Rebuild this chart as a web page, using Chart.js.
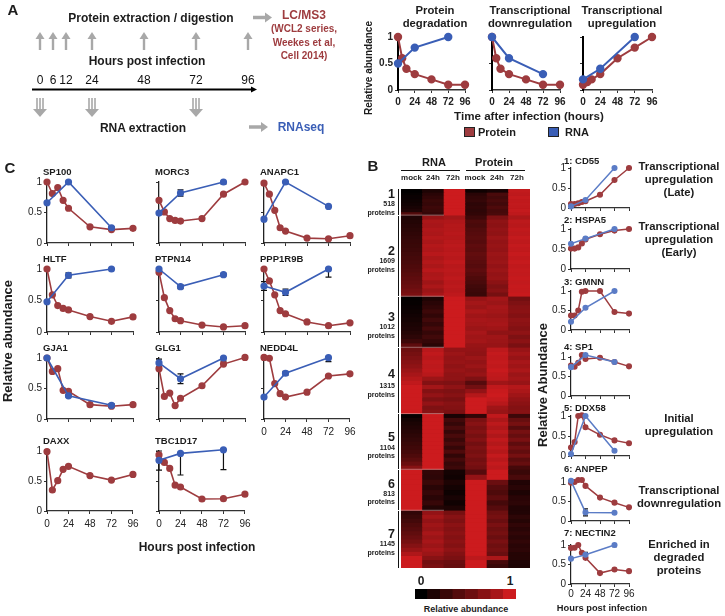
<!DOCTYPE html>
<html>
<head>
<meta charset="utf-8">
<title>Protein and RNA time courses</title>
<script src="https://cdn.jsdelivr.net/npm/chart.js@4"></script>
<style>
    html, body { margin: 0; padding: 0; background: #fff; }
    #page { position: relative; width: 725px; height: 616px; overflow: hidden; font-family: "Liberation Sans", Arial, sans-serif; color: #1c1c1c; }
    #page canvas { position: absolute; }
    .t { position: absolute; white-space: nowrap; line-height: 1; }
    .box { position: absolute; }
</style>
</head>
<body>
<div id="page"></div>
<script>
// time points
const timelineHours = [0, 6, 12, 24, 48, 72, 96];
const proteinHours = [0, 6, 12, 18, 24, 48, 72, 96];
const rnaHours = [0, 24, 72];
const axisHours = [0, 24, 48, 72, 96];

// panel A
const degradationProtein = [1, 0.6, 0.4, 0.3, 0.2, 0.1, 0.1];
const degradationRna = [0.5, 0.8, 1];
const downProtein = [1, 0.6, 0.4, 0.3, 0.2, 0.1, 0.1];
const downRna = [1, 0.6, 0.3];
const upProtein = [0.1, 0.15, 0.2, 0.3, 0.6, 0.8, 1];
const upRna = [0.2, 0.4, 1];

// panel C
const sp100Protein = [1, 0.81, 0.91, 0.7, 0.57, 0.265, 0.22, 0.24];
const sp100Rna = [0.66, 1, 0.25];
const sp100Low = [0.66, 0.96, 0.22];
const sp100High = [0.66, 1, 0.27];
const morc3Protein = [0.7, 0.51, 0.4, 0.37, 0.36, 0.4, 0.8, 1];
const morc3Rna = [0.49, 0.82, 1];
const morc3Low = [0.49, 0.77, 0.97];
const morc3High = [0.49, 0.87, 1];
const anapc1Protein = [0.98, 0.8, 0.535, 0.25, 0.195, 0.08, 0.07, 0.12];
const anapc1Rna = [0.39, 1, 0.6];
const hltfProtein = [1, 0.59, 0.42, 0.375, 0.35, 0.245, 0.17, 0.24];
const hltfRna = [0.48, 0.9, 1];
const hltfLow = [0.48, 0.86, 1];
const hltfHigh = [0.48, 0.94, 1];
const ptpn14Protein = [0.95, 0.545, 0.34, 0.21, 0.18, 0.11, 0.08, 0.1];
const ptpn14Rna = [1, 0.72, 0.91];
const ptpn14Low = [1, 0.69, 0.89];
const ptpn14High = [1, 0.75, 0.93];
const ppp1r9bProtein = [1, 0.81, 0.59, 0.34, 0.29, 0.16, 0.1, 0.145];
const ppp1r9bRna = [0.73, 0.63, 1];
const ppp1r9bLow = [0.66, 0.58, 0.87];
const ppp1r9bHigh = [0.8, 0.68, 1];
const gja1Protein = [1, 0.78, 0.825, 0.47, 0.455, 0.235, 0.21, 0.235];
const gja1Rna = [1, 0.38, 0.225];
const gja1Low = [1, 0.36, 0.2];
const gja1High = [1, 0.4, 0.25];
const glg1Protein = [0.825, 0.37, 0.425, 0.22, 0.34, 0.545, 0.9, 1.01];
const glg1Rna = [0.92, 0.66, 1];
const glg1Low = [0.86, 0.58, 0.95];
const glg1High = [0.98, 0.74, 1];
const nedd4lProtein = [1.01, 0.995, 0.58, 0.415, 0.36, 0.44, 0.705, 0.74];
const nedd4lRna = [0.36, 0.75, 1.005];
const nedd4lLow = [0.36, 0.72, 0.94];
const nedd4lHigh = [0.36, 0.78, 1.005];
const daxxProtein = [0.99, 0.35, 0.505, 0.695, 0.745, 0.59, 0.515, 0.61];
const tbc1d17Protein = [0.935, 0.81, 0.71, 0.43, 0.4, 0.2, 0.205, 0.28];
const tbc1d17Rna = [0.845, 0.96, 1.02];
const tbc1d17Low = [0.68, 0.6, 0.69];
const tbc1d17High = [1, 0.96, 1.02];

// panel B line plots
const cd55Protein = [0.1, 0.1, 0.12, 0.15, 0.17, 0.33, 0.7, 1];
const cd55Rna = [0.04, 0.2, 1];
const hspa5Protein = [0.51, 0.51, 0.54, 0.64, 0.74, 0.87, 0.96, 1];
const hspa5Rna = [0.63, 0.76, 1];
const gmnnProtein = [0.37, 0.37, 0.5, 0.98, 1, 1, 0.46, 0.42];
const gmnnRna = [0.21, 0.57, 1];
const sp1Protein = [0.78, 0.75, 0.85, 1.05, 0.95, 0.98, 0.87, 0.76];
const sp1Rna = [0.74, 1.05, 0.87];
const ddx58Protein = [0.21, 0.35, 1, 1.02, 0.72, 0.53, 0.39, 0.32];
const ddx58Rna = [0.05, 1, 0.13];
const anpepProtein = [0.98, 1, 1.05, 1.05, 0.9, 0.6, 0.47, 0.35];
const anpepRna = [1.03, 0.22, 0.21];
const anpepLow = [1.03, 0.13, 0.21];
const anpepHigh = [1.03, 0.31, 0.21];
const nectin2Protein = [0.92, 0.93, 1, 0.8, 0.67, 0.28, 0.37, 0.33];
const nectin2Rna = [0.65, 0.75, 1];
const nectin2Low = [0.65, 0.69, 0.96];
const nectin2High = [0.65, 0.81, 1];

// panel B heatmap: rna mock, 24h, 72h, protein mock, 24h, 72h
const heatColumns = ["rna mock", "rna 24h", "rna 72h", "protein mock", "protein 24h", "protein 72h"];
const clusterCounts = [518, 1609, 1012, 1315, 1104, 813, 1145];
const cluster1 = [
    [0.01, 0.14, 1, 0.08, 0.12, 0.95], [0.03, 0.2, 1, 0.2, 0.36, 0.93],
    [0.05, 0.24, 1, 0.24, 0.32, 0.96], [0.07, 0.28, 1, 0.26, 0.36, 0.94],
    [0.09, 0.26, 1, 0.22, 0.32, 0.95], [0.12, 0.3, 1, 0.24, 0.38, 0.94],
    [0.15, 0.28, 1, 0.22, 0.34, 0.96], [0.4, 0.26, 1, 0.24, 0.36, 0.93]
];
const cluster2 = [
    [0.15, 0.74, 0.8, 0.3, 0.62, 0.84], [0.17, 0.84, 0.86, 0.38, 0.7, 0.92],
    [0.19, 0.82, 0.88, 0.36, 0.68, 0.9], [0.21, 0.86, 0.88, 0.4, 0.72, 0.94],
    [0.23, 0.84, 0.9, 0.42, 0.7, 0.92], [0.25, 0.88, 0.88, 0.44, 0.76, 0.96],
    [0.27, 0.84, 0.9, 0.42, 0.72, 0.93], [0.28, 0.88, 0.92, 0.46, 0.74, 0.96],
    [0.3, 0.86, 0.9, 0.44, 0.72, 0.94], [0.32, 0.9, 0.92, 0.48, 0.76, 0.97],
    [0.34, 0.84, 0.9, 0.46, 0.74, 0.94], [0.36, 0.88, 0.94, 0.44, 0.76, 0.97],
    [0.38, 0.84, 0.9, 0.42, 0.72, 0.94], [0.4, 0.9, 0.92, 0.46, 0.76, 0.96],
    [0.43, 0.84, 0.9, 0.42, 0.72, 0.95], [0.46, 0.86, 0.93, 0.38, 0.74, 0.97],
    [0.49, 0.78, 0.9, 0.36, 0.68, 0.95], [0.52, 0.84, 0.92, 0.32, 0.62, 0.97],
    [0.56, 0.76, 0.9, 0.3, 0.66, 0.96], [0.6, 0.82, 0.93, 0.28, 0.58, 0.98]
];
const cluster3 = [
    [0.01, 0.14, 1, 0.74, 0.8, 0.56], [0.03, 0.2, 1, 0.8, 0.76, 0.62],
    [0.05, 0.24, 1, 0.76, 0.82, 0.66], [0.07, 0.3, 1, 0.84, 0.8, 0.68],
    [0.09, 0.24, 1, 0.78, 0.76, 0.64], [0.11, 0.32, 1, 0.82, 0.8, 0.7],
    [0.13, 0.26, 1, 0.8, 0.82, 0.68], [0.15, 0.34, 1, 0.76, 0.78, 0.64],
    [0.18, 0.26, 1, 0.82, 0.7, 0.7], [0.22, 0.32, 1, 0.78, 0.78, 0.62],
    [0.3, 0.26, 1, 0.8, 0.76, 0.68], [0.46, 0.2, 1, 0.74, 0.74, 0.6]
];
const cluster4 = [
    [0.54, 0.9, 0.72, 0.72, 0.92, 0.74], [0.58, 0.94, 0.76, 0.7, 0.96, 0.8],
    [0.62, 0.9, 0.72, 0.76, 0.94, 0.74], [0.66, 0.94, 0.74, 0.72, 0.96, 0.82],
    [0.7, 0.92, 0.7, 0.76, 0.94, 0.78], [0.76, 0.94, 0.74, 0.7, 0.98, 0.84],
    [0.82, 0.9, 0.7, 0.74, 0.94, 0.76], [0.88, 0.76, 0.7, 0.62, 0.92, 0.8],
    [0.94, 0.64, 0.62, 0.42, 0.78, 0.74], [1, 0.8, 0.7, 0.56, 0.94, 0.88],
    [1, 0.64, 0.62, 0.72, 0.98, 0.84], [1, 0.72, 0.66, 0.88, 1, 0.78],
    [1, 0.62, 0.6, 1, 0.96, 0.72], [1, 0.72, 0.66, 1, 0.9, 0.68],
    [1, 0.62, 0.64, 1, 0.78, 0.64], [1, 0.66, 0.6, 1, 0.74, 0.66]
];
const cluster5 = [
    [0.03, 1, 0.12, 0.24, 0.94, 0.3], [0.1, 1, 0.32, 0.6, 0.84, 0.5],
    [0.13, 1, 0.26, 0.66, 0.92, 0.58], [0.16, 1, 0.36, 0.6, 0.86, 0.42],
    [0.19, 1, 0.26, 0.64, 0.92, 0.58], [0.22, 1, 0.36, 0.58, 0.86, 0.5],
    [0.25, 1, 0.28, 0.64, 0.94, 0.6], [0.28, 1, 0.36, 0.56, 0.88, 0.46],
    [0.31, 1, 0.26, 0.62, 0.94, 0.56], [0.34, 1, 0.38, 0.58, 0.88, 0.48],
    [0.38, 1, 0.24, 0.62, 0.96, 0.58], [0.44, 1, 0.34, 0.56, 0.9, 0.44],
    [0.52, 1, 0.26, 0.6, 0.96, 0.5], [0.66, 1, 0.3, 0.56, 0.92, 0.34]
];
const cluster6 = [
    [1, 0.24, 0.1, 0.42, 1, 0.28], [1, 0.22, 0.08, 0.72, 1, 0.36],
    [1, 0.28, 0.14, 1, 0.52, 0.16], [1, 0.2, 0.1, 1, 0.42, 0.2],
    [1, 0.26, 0.07, 1, 0.38, 0.14], [1, 0.2, 0.12, 1, 0.46, 0.2],
    [1, 0.27, 0.08, 1, 0.34, 0.22], [1, 0.17, 0.14, 1, 0.42, 0.16]
];
const cluster7 = [
    [0.24, 0.72, 0.58, 1, 0.54, 0.16], [0.28, 0.8, 0.66, 1, 0.58, 0.22],
    [0.33, 0.72, 0.62, 1, 0.52, 0.18], [0.38, 0.78, 0.68, 1, 0.6, 0.24],
    [0.42, 0.74, 0.64, 1, 0.54, 0.2], [0.47, 0.82, 0.68, 1, 0.58, 0.24],
    [0.52, 0.76, 0.64, 1, 0.52, 0.2], [0.58, 0.82, 0.68, 1, 0.6, 0.24],
    [0.65, 0.76, 0.64, 1, 0.54, 0.2], [0.74, 0.82, 0.7, 1, 0.58, 0.22],
    [0.86, 0.76, 0.64, 1, 0.52, 0.18], [1, 0.66, 0.6, 0.92, 0.84, 0.18],
    [1, 0.56, 0.52, 1, 0.34, 0.15], [1, 0.6, 0.5, 1, 0.28, 0.14]
];
const clusterRows = [cluster1, cluster2, cluster3, cluster4, cluster5, cluster6, cluster7];
const colorbarValues = [0, 0.14, 0.28, 0.41, 0.53, 0.66, 0.82, 1];

const PROTEIN = "#9e3c3f";
const RNA = "#3a5eb6";
const RNA_LIGHT = "#5b7cc6";
const ARROW = "#a8a8a8";
const page = document.getElementById("page");

Chart.defaults.font.family = '"Liberation Sans", Arial, sans-serif';
Chart.defaults.color = "#222";
Chart.defaults.animation = false;

// text helper, x and y are the anchor point (middle of the line height)
function text(str, x, y, size, opts) {
    opts = opts || {};
    const el = document.createElement("div");
    el.className = "t";
    el.textContent = str;
    el.style.left = x + "px";
    el.style.top = y + "px";
    el.style.fontSize = size + "px";
    el.style.fontWeight = opts.weight || "bold";
    if (opts.color) el.style.color = opts.color;
    const shift = opts.align === "left" ? "0" : opts.align === "right" ? "-100%" : "-50%";
    el.style.transform = "translate(" + shift + ",-50%)" + (opts.rotate ? " rotate(-90deg)" : "");
    page.appendChild(el);
}

function lines(list, x, y, step, size, opts) {
    list.forEach(function (s, i) { text(s, x, y + i * step, size, opts); });
}

function addCanvas(left, top, width, height) {
    const c = document.createElement("canvas");
    c.width = width;
    c.height = height;
    c.style.left = left + "px";
    c.style.top = top + "px";
    c.style.width = width + "px";
    c.style.height = height + "px";
    page.appendChild(c);
    return c.getContext("2d");
}

function toPoints(hours, values) {
    return hours.map(function (h, i) { return { x: h, y: values[i] }; });
}

// draws the black whiskers of the RNA series behind the points
const errorBars = {
    id: "errorBars",
    beforeDatasetsDraw(chart, args, o) {
        if (!o.low) return;
        const ctx = chart.ctx, sx = chart.scales.x, sy = chart.scales.y;
        ctx.save();
        ctx.strokeStyle = "#111";
        ctx.lineWidth = o.width;
        rnaHours.forEach(function (h, i) {
            const px = sx.getPixelForValue(h);
            const a = sy.getPixelForValue(o.low[i]);
            const b = sy.getPixelForValue(o.high[i]);
            if (Math.abs(a - b) < 1) return;
            ctx.beginPath();
            ctx.moveTo(px, a); ctx.lineTo(px, b);
            ctx.moveTo(px - o.cap, a); ctx.lineTo(px + o.cap, a);
            ctx.moveTo(px - o.cap, b); ctx.lineTo(px + o.cap, b);
            ctx.stroke();
        });
        ctx.restore();
    }
};

const STYLES = {
    a: { radius: 3.2, line: 2, yBorder: 2, xBorder: 1.6, tick: 3, labelPad: 3.5, font: { size: 10, weight: "bold" }, yColor: "#000", cap: 2, rna: RNA },
    c: { radius: 2.8, line: 1.6, yBorder: 1.3, xBorder: 1.2, tick: 3, labelPad: 4.5, font: { size: 10 }, yColor: "#222", cap: 3, rna: RNA },
    b: { radius: 2.3, line: 1.5, yBorder: 1.2, xBorder: 1.2, tick: 3, labelPad: 1.5, font: { size: 10 }, yColor: "#222", cap: 2.5, rna: RNA_LIGHT }
};

function linePlot(p) {
    const s = STYLES[p.style];
    const padY = 28, padTop = 9, padRight = 10, padX = 22;
    const width = p.x96 - p.x0;
    const height = p.y0 - p.y1;
    const ctx = addCanvas(p.x0 - padY, p.y1 - padTop, width + padY + padRight, height + padTop + padX);
    const datasets = [];
    if (p.rna) datasets.push({
        data: toPoints(rnaHours, p.rna), showLine: true, borderColor: s.rna, backgroundColor: s.rna,
        borderWidth: s.line, pointRadius: s.radius, clip: false
    });
    datasets.push({
        data: toPoints(p.proteinHours || proteinHours, p.protein), showLine: true, borderColor: PROTEIN, backgroundColor: PROTEIN,
        borderWidth: s.line, pointRadius: s.radius, clip: false
    });
    return new Chart(ctx, {
        type: "scatter",
        data: { datasets: datasets },
        plugins: [errorBars],
        options: {
            responsive: false,
            layout: { padding: { left: 0, right: padRight, top: padTop, bottom: 0 } },
            plugins: {
                legend: { display: false },
                tooltip: { enabled: false },
                errorBars: { low: p.low, high: p.high, cap: s.cap, width: 1.2 }
            },
            scales: {
                x: {
                    type: "linear", min: 0, max: 96,
                    afterBuildTicks: function (a) { a.ticks = axisHours.map(function (v) { return { value: v }; }); },
                    afterFit: function (a) { a.height = padX; },
                    border: { color: "#333", width: s.xBorder },
                    grid: { drawOnChartArea: false, tickLength: s.tick, color: "#333" },
                    ticks: {
                        font: s.font, padding: s.labelPad, maxRotation: 0, autoSkip: false,
                        callback: function (v) { return p.xLabels ? String(v) : ""; }
                    }
                },
                y: {
                    min: 0, max: 1,
                    afterBuildTicks: function (a) { a.ticks = [0, 0.5, 1].map(function (v) { return { value: v }; }); },
                    afterFit: function (a) { a.width = padY; },
                    border: { color: s.yColor, width: s.yBorder },
                    grid: { drawOnChartArea: false, tickLength: s.tick, color: "#333" },
                    ticks: {
                        font: s.font, padding: 2, autoSkip: false,
                        callback: function (v) { return p.yLabels ? String(v) : ""; }
                    }
                }
            }
        }
    });
}

// ---- Panel A: timeline ----
function upArrow(c, x, top, bottom) {
    c.strokeStyle = ARROW; c.fillStyle = ARROW; c.lineWidth = 2.4;
    c.beginPath(); c.moveTo(x, bottom); c.lineTo(x, top + 5); c.stroke();
    c.beginPath(); c.moveTo(x - 4.5, top + 7); c.lineTo(x, top); c.lineTo(x + 4.5, top + 7); c.closePath(); c.fill();
}

function sideArrow(c, left, right, y) {
    c.strokeStyle = ARROW; c.fillStyle = ARROW; c.lineWidth = 3.5;
    c.beginPath(); c.moveTo(left, y); c.lineTo(right - 6, y); c.stroke();
    c.beginPath(); c.moveTo(right - 7, y - 5); c.lineTo(right, y); c.lineTo(right - 7, y + 5); c.closePath(); c.fill();
}

const timelineDraw = {
    id: "timelineDraw",
    afterDraw(chart) {
        const c = chart.ctx, sx = chart.scales.x;
        c.save();
        timelineHours.forEach(function (h) { upArrow(c, sx.getPixelForValue(h), 32, 50); });
        rnaHours.forEach(function (h) {
            const x = sx.getPixelForValue(h);
            c.strokeStyle = ARROW; c.fillStyle = ARROW; c.lineWidth = 1.6;
            [-3, 0, 3].forEach(function (d) {
                c.beginPath(); c.moveTo(x + d, 98); c.lineTo(x + d, 110); c.stroke();
            });
            c.beginPath(); c.moveTo(x - 7, 109); c.lineTo(x + 7, 109); c.lineTo(x, 117); c.closePath(); c.fill();
        });
        c.strokeStyle = "#000"; c.fillStyle = "#000"; c.lineWidth = 2.2;
        c.beginPath(); c.moveTo(32, 89.5); c.lineTo(252, 89.5); c.stroke();
        c.beginPath(); c.moveTo(251, 86.5); c.lineTo(257, 89.5); c.lineTo(251, 92.5); c.closePath(); c.fill();
        sideArrow(c, 253, 272, 17.5);
        sideArrow(c, 249, 268, 127);
        c.restore();
    }
};

new Chart(addCanvas(0, 0, 290, 135), {
    type: "scatter",
    data: { datasets: [{ data: toPoints(timelineHours, timelineHours.map(function () { return 0; })), pointRadius: 0 }] },
    plugins: [timelineDraw],
    options: {
        responsive: false,
        layout: { padding: { left: 40, right: 42, top: 30, bottom: 47 } },
        plugins: { legend: { display: false }, tooltip: { enabled: false } },
        scales: {
            x: {
                type: "linear", min: 0, max: 96,
                afterBuildTicks: function (a) { a.ticks = timelineHours.map(function (v) { return { value: v }; }); },
                afterFit: function (a) { a.height = 16; },
                border: { display: false },
                grid: { display: false, drawTicks: false, tickLength: 0 },
                ticks: { font: { size: 12 }, color: "#111", padding: 1, maxRotation: 0, autoSkip: false }
            },
            y: { display: false, min: 0, max: 1 }
        }
    }
});

text("A", 13, 9, 15);
text("Protein extraction / digestion", 151, 18, 12);
text("Hours post infection", 147, 61, 12);
text("RNA extraction", 143, 128, 12);
text("LC/MS3", 304, 15, 12, { color: PROTEIN });
lines(["(WCL2 series,", "Weekes et al,", "Cell 2014)"], 304, 29, 13.5, 10, { color: PROTEIN });
text("RNAseq", 301, 127, 12, { color: RNA });

// ---- Panel A: model plots ----
linePlot({ style: "a", x0: 398, x96: 465, y1: 37, y0: 90, protein: degradationProtein, proteinHours: timelineHours, rna: degradationRna, xLabels: true, yLabels: true });
linePlot({ style: "a", x0: 492, x96: 560, y1: 37, y0: 90, protein: downProtein, proteinHours: timelineHours, rna: downRna, xLabels: true });
linePlot({ style: "a", x0: 583, x96: 652, y1: 37, y0: 90, protein: upProtein, proteinHours: timelineHours, rna: upRna, xLabels: true });

lines(["Protein", "degradation"], 435, 11, 13, 11.3);
lines(["Transcriptional", "downregulation"], 530, 11, 13, 11.3);
lines(["Transcriptional", "upregulation"], 622, 11, 13, 11.3);
text("Relative abundance", 369, 68, 10, { rotate: true });
text("Time after infection (hours)", 529, 116, 11.6);

function legendBox(x, y, color) {
    const b = document.createElement("div");
    b.className = "box";
    b.style.cssText = "left:" + x + "px;top:" + y + "px;width:9px;height:8px;background:" + color + ";border:1px solid #222;";
    page.appendChild(b);
}
legendBox(464, 127, PROTEIN);
text("Protein", 478, 132, 11, { align: "left" });
legendBox(548, 127, RNA);
text("RNA", 565, 132, 11, { align: "left" });

// ---- Panel C ----
const colC = [[47, 133], [159, 245], [264, 350]];
const rowC = [[182, 243], [269, 332], [358, 419], [451, 511]];
const panelC = [
    { name: "SP100", col: 0, row: 0, protein: sp100Protein, rna: sp100Rna, low: sp100Low, high: sp100High },
    { name: "MORC3", col: 1, row: 0, protein: morc3Protein, rna: morc3Rna, low: morc3Low, high: morc3High },
    { name: "ANAPC1", col: 2, row: 0, protein: anapc1Protein, rna: anapc1Rna },
    { name: "HLTF", col: 0, row: 1, protein: hltfProtein, rna: hltfRna, low: hltfLow, high: hltfHigh },
    { name: "PTPN14", col: 1, row: 1, protein: ptpn14Protein, rna: ptpn14Rna, low: ptpn14Low, high: ptpn14High },
    { name: "PPP1R9B", col: 2, row: 1, protein: ppp1r9bProtein, rna: ppp1r9bRna, low: ppp1r9bLow, high: ppp1r9bHigh },
    { name: "GJA1", col: 0, row: 2, protein: gja1Protein, rna: gja1Rna, low: gja1Low, high: gja1High },
    { name: "GLG1", col: 1, row: 2, protein: glg1Protein, rna: glg1Rna, low: glg1Low, high: glg1High },
    { name: "NEDD4L", col: 2, row: 2, protein: nedd4lProtein, rna: nedd4lRna, low: nedd4lLow, high: nedd4lHigh, xLabels: true },
    { name: "DAXX", col: 0, row: 3, protein: daxxProtein, xLabels: true },
    { name: "TBC1D17", col: 1, row: 3, protein: tbc1d17Protein, rna: tbc1d17Rna, low: tbc1d17Low, high: tbc1d17High, xLabels: true }
];
panelC.forEach(function (p) {
    const c = colC[p.col], r = rowC[p.row];
    linePlot({ style: "c", x0: c[0], x96: c[1], y1: r[0], y0: r[1], protein: p.protein, rna: p.rna, low: p.low, high: p.high, xLabels: p.xLabels, yLabels: p.col === 0 });
    text(p.name, c[0] - 4, r[0] - 10.5, 9.5, { align: "left" });
});
text("C", 10, 167, 15);
text("Relative abundance", 7, 341, 13, { rotate: true });
text("Hours post infection", 197, 547, 12);

// ---- Panel B: heatmap ----
function heatColor(v) {
    return "rgb(" + Math.round(204 * v) + "," + Math.round(27 * v) + "," + Math.round(30 * v) + ")";
}

const heatDatasets = [];
clusterRows.forEach(function (rows, k) {
    rows.forEach(function (row) {
        heatDatasets.push({
            data: row.map(function () { return clusterCounts[k] / rows.length; }),
            backgroundColor: row.map(heatColor),
            borderWidth: 0,
            barPercentage: 1,
            categoryPercentage: 1
        });
    });
});

const clusterGaps = {
    id: "clusterGaps",
    afterDatasetsDraw(chart) {
        const c = chart.ctx, sy = chart.scales.y, area = chart.chartArea;
        let sum = 0;
        c.save();
        c.strokeStyle = "rgba(255,255,255,0.55)";
        c.lineWidth = 0.7;
        clusterCounts.slice(0, -1).forEach(function (n) {
            sum += n;
            const y = sy.getPixelForValue(sum);
            c.beginPath(); c.moveTo(area.left, y); c.lineTo(area.left + area.width / 3, y); c.stroke();
        });
        c.restore();
    }
};

const heatCanvas = addCanvas(401, 189, 129, 379);
heatCanvas.canvas.style.background = "#8a1316";
new Chart(heatCanvas, {
    type: "bar",
    data: { labels: heatColumns, datasets: heatDatasets },
    plugins: [clusterGaps],
    options: {
        responsive: false,
        plugins: { legend: { display: false }, tooltip: { enabled: false } },
        scales: {
            x: { display: false, stacked: true },
            y: {
                display: false, stacked: true, reverse: true, min: 0,
                max: clusterCounts.reduce(function (a, b) { return a + b; }, 0)
            }
        }
    }
});

// colour key
new Chart(addCanvas(415, 589, 101, 10), {
    type: "bar",
    data: {
        labels: colorbarValues.map(String),
        datasets: [{
            data: colorbarValues.map(function () { return 1; }),
            backgroundColor: colorbarValues.map(heatColor),
            barPercentage: 1, categoryPercentage: 1
        }]
    },
    options: {
        responsive: false,
        plugins: { legend: { display: false }, tooltip: { enabled: false } },
        scales: { x: { display: false }, y: { display: false, min: 0, max: 1 } }
    }
});

text("B", 373, 165, 15);
text("RNA", 434, 162, 11);
text("Protein", 494, 162, 11);
[[401, 460], [466, 525]].forEach(function (r) {
    const b = document.createElement("div");
    b.className = "box";
    b.style.cssText = "left:" + r[0] + "px;top:170px;width:" + (r[1] - r[0]) + "px;height:1px;background:#111;";
    page.appendChild(b);
});
const heatLabelX = [411.5, 433, 453, 475, 497, 517];
["mock", "24h", "72h", "mock", "24h", "72h"].forEach(function (s, i) { text(s, heatLabelX[i], 178, 8); });

const clusterTextY = [[194, 203, 212], [251, 260, 269], [317, 326, 335], [374, 385, 394], [437, 447, 455], [484, 493, 501], [534, 543, 552]];
const clusterBarY = [[189, 215], [216, 296], [297, 347], [348, 413], [414, 469], [470, 510], [511, 568]];
clusterTextY.forEach(function (y, i) {
    text(String(i + 1), 395, y[0], 12.5, { align: "right" });
    text(String(clusterCounts[i]), 395, y[1], 7, { align: "right" });
    text("proteins", 395, y[2], 7, { align: "right" });
    const b = document.createElement("div");
    b.className = "box";
    b.style.cssText = "left:397.5px;top:" + clusterBarY[i][0] + "px;width:1.5px;height:" + (clusterBarY[i][1] - clusterBarY[i][0]) + "px;background:#111;";
    page.appendChild(b);
});
text("0", 421, 581, 12);
text("1", 510, 581, 12);
text("Relative abundance", 466, 609, 9);

// ---- Panel B: example proteins ----
const panelB = [
    { name: "1: CD55", y1: 168, y0: 208, protein: cd55Protein, rna: cd55Rna, titleY: 161 },
    { name: "2: HSPA5", y1: 229, y0: 269, protein: hspa5Protein, rna: hspa5Rna, titleY: 220 },
    { name: "3: GMNN", y1: 291, y0: 330, protein: gmnnProtein, rna: gmnnRna, titleY: 282 },
    { name: "4: SP1", y1: 357, y0: 396, protein: sp1Protein, rna: sp1Rna, titleY: 347 },
    { name: "5: DDX58", y1: 416, y0: 456, protein: ddx58Protein, rna: ddx58Rna, titleY: 408 },
    { name: "6: ANPEP", y1: 482, y0: 521, protein: anpepProtein, rna: anpepRna, low: anpepLow, high: anpepHigh, titleY: 469 },
    { name: "7: NECTIN2", y1: 545, y0: 584, protein: nectin2Protein, rna: nectin2Rna, low: nectin2Low, high: nectin2High, titleY: 533, xLabels: true }
];
panelB.forEach(function (p) {
    linePlot({ style: "b", x0: 571, x96: 629, y1: p.y1, y0: p.y0, protein: p.protein, rna: p.rna, low: p.low, high: p.high, xLabels: p.xLabels, yLabels: true });
    text(p.name, 564, p.titleY, 9.5, { align: "left" });
});
text("Relative Abundance", 542, 385, 13, { rotate: true });
text("Hours post infection", 602, 609, 9.3);
lines(["Transcriptional", "upregulation", "(Late)"], 679, 167, 13, 11.3);
lines(["Transcriptional", "upregulation", "(Early)"], 679, 227, 13, 11.3);
lines(["Initial", "upregulation"], 679, 419, 13, 11.3);
lines(["Transcriptional", "downregulation"], 679, 491, 13, 11.3);
lines(["Enriched in", "degraded", "proteins"], 679, 545, 13, 11.3);
</script>
</body>
</html>
